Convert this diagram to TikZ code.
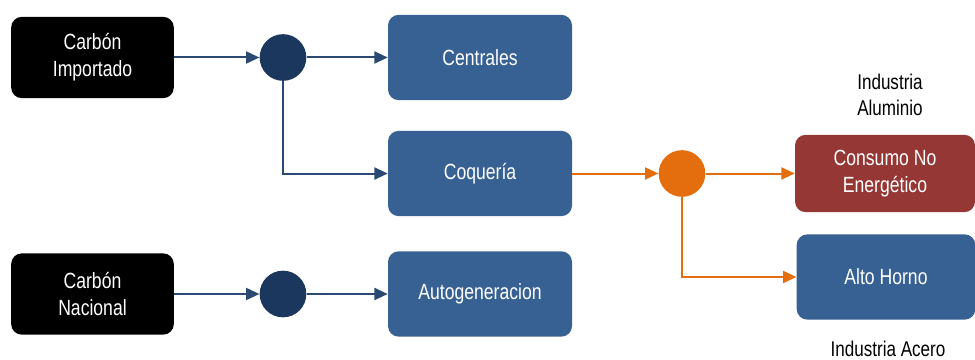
\documentclass[tikz,border=0pt]{standalone}
\usepackage{fontspec}
\setmainfont[FakeStretch=0.8]{Liberation Sans}
\usetikzlibrary{arrows.meta}
\definecolor{boxblue}{HTML}{386193}
\definecolor{hubblue}{HTML}{1C375E}
\definecolor{hubline}{HTML}{2A4A73}
\definecolor{hubor}{HTML}{E46D0E}
\definecolor{boxred}{HTML}{953735}
\tikzset{
  srcbox/.style={fill=black, rounded corners=8pt, minimum width=122pt, minimum height=61pt, text=white, align=center, font=\fontsize{16.5}{20.5}\selectfont},
  procbox/.style={fill=boxblue, rounded corners=8pt, minimum width=138pt, minimum height=64pt, text=white, align=center, font=\fontsize{16.5}{20.5}\selectfont},
  redbox/.style={procbox, fill=boxred, minimum width=135pt, minimum height=58pt},
  hub/.style={circle, fill=hubblue, minimum size=35pt, inner sep=0pt},
  ohub/.style={hub, fill=hubor},
  bline/.style={draw=hubline, line width=1.5pt, -{Triangle[length=10pt,width=9pt]}},
  oline/.style={bline, draw=hubor, -{Triangle[length=10pt,width=9pt]}},
  lbl/.style={align=center, font=\fontsize{16}{19.5}\selectfont}
}
\begin{document}
\begin{tikzpicture}[x=0.75pt,y=-0.75pt]
\useasboundingbox (0,0) rectangle (975,360);

\node[srcbox] (imp) at (92.5,57.5) {Carbón\\Importado};
\node[hub] (h1) at (283,57.5) {};
\node[procbox] (cen) at (480,57.5) {Centrales};
\node[procbox] (coq) at (480,173.5) {Coquería};

\node[srcbox] (nac) at (92.5,294) {Carbón\\Nacional};
\node[hub] (h2) at (283,294) {};
\node[procbox] (aut) at (480,294) {Autogeneracion};

\node[ohub] (h3) at (682,173.5) {};
\node[redbox] (cne) at (885,173.5) {Consumo No\\Energético};
\node[procbox, minimum width=134pt] (ah) at (886,277) {Alto Horno};

\node[lbl] (alu) at (890,95) {Industria\\Aluminio};
\node[lbl] (ace) at (888,349) {Industria Acero};

\draw[bline] (imp) -- (h1);
\draw[bline] (h1) -- (cen);
\draw[bline] (h1) |- (coq);
\draw[bline] (nac) -- (h2);
\draw[bline] (h2) -- (aut);

\draw[oline] (coq) -- (h3);
\draw[oline] (h3) -- (cne);
\draw[oline] (h3) |- (ah);
\end{tikzpicture}
\end{document}
